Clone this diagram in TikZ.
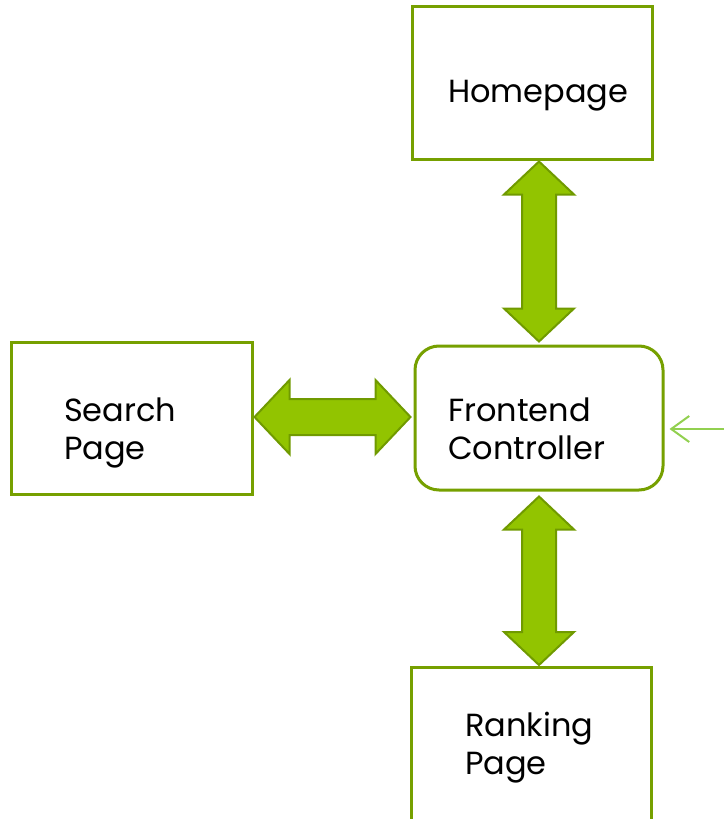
\documentclass[tikz,border=0pt]{standalone}
\usepackage{fontspec}
\setmainfont{Poppins}
\usetikzlibrary{calc,arrows.meta}
\definecolor{boxgreen}{RGB}{118,160,0}
\definecolor{arrowfill}{RGB}{146,196,0}
\definecolor{arrowline}{RGB}{112,154,0}
\definecolor{inline}{RGB}{146,208,80}
\tikzset{
  pagebox/.style={draw=boxgreen, line width=3pt, fill=white, inner sep=0pt},
  ctrlbox/.style={draw=boxgreen, line width=3pt, rounded corners=24pt, fill=white, inner sep=0pt},
  lbl/.style={anchor=base west, inner sep=0pt, font=\fontsize{32}{38}\selectfont, align=left},
  fatarrow/.style={fill=arrowfill, draw=arrowline, line width=2pt, line join=miter},
  inarrow/.style={draw=inline, line width=2pt, -{Straight Barb[length=18pt,width=26pt,line width=2pt]}}
}
\newcommand\vfat[2]{%
  \draw[fatarrow] let \p1=(#1), \p2=(#2) in
    (\x1,\y1) -- (\x1+35pt,\y1-33pt) -- (\x1+17pt,\y1-33pt) -- (\x1+17pt,\y2+33pt)
    -- (\x1+35pt,\y2+33pt) -- (\x1,\y2) -- (\x1-35pt,\y2+33pt) -- (\x1-17pt,\y2+33pt)
    -- (\x1-17pt,\y1-33pt) -- (\x1-35pt,\y1-33pt) -- cycle;}
\newcommand\hfat[2]{%
  \draw[fatarrow] let \p1=(#1), \p2=(#2) in
    (\x1,\y1) -- (\x1+35pt,\y1+37pt) -- (\x1+35pt,\y1+18pt) -- (\x2-35pt,\y1+18pt)
    -- (\x2-35pt,\y1+37pt) -- (\x2,\y1) -- (\x2-35pt,\y1-37pt) -- (\x2-35pt,\y1-18pt)
    -- (\x1+35pt,\y1-18pt) -- (\x1+35pt,\y1-37pt) -- cycle;}
\begin{document}
\begin{tikzpicture}[x=1pt,y=-1pt]
\useasboundingbox (0,0) rectangle (723,819);
% boxes
\node[pagebox, minimum width=240pt, minimum height=153pt] (home) at (532,82.5) {};
\node[pagebox, minimum width=241pt, minimum height=152pt] (search) at (131.5,418) {};
\node[ctrlbox, minimum width=248pt, minimum height=144pt] (ctrl) at (539,418) {};
\node[pagebox, minimum width=240pt, minimum height=170pt, anchor=north] (rank) at (531,666) {};
% labels
\node[lbl] (homet) at (448,102) {Homepage};
\node[lbl] (searcht) at (64,459) {Search\\Page};
\node[lbl] (ctrlt) at (448,459) {Frontend\\Controller};
\node[lbl] (rankt) at (465,774) {Ranking\\Page};
% fat arrows
\coordinate (hs) at (ctrl.north |- home.south);
\coordinate (rn) at (ctrl.south |- rank.north);
\vfat{$(hs)+(0,1)$}{$(ctrl.north)+(0,-3)$}
\vfat{$(ctrl.south)+(0,5)$}{$(rn)+(0,-1)$}
\hfat{$(search.east)+(1,-1)$}{$(ctrl.west)+(-3,-1)$}
% incoming arrow
\coordinate (inend) at (730,429);
\draw[inarrow] (inend) -- ($(ctrl.east)+(5,11)$);
\end{tikzpicture}
\end{document}
